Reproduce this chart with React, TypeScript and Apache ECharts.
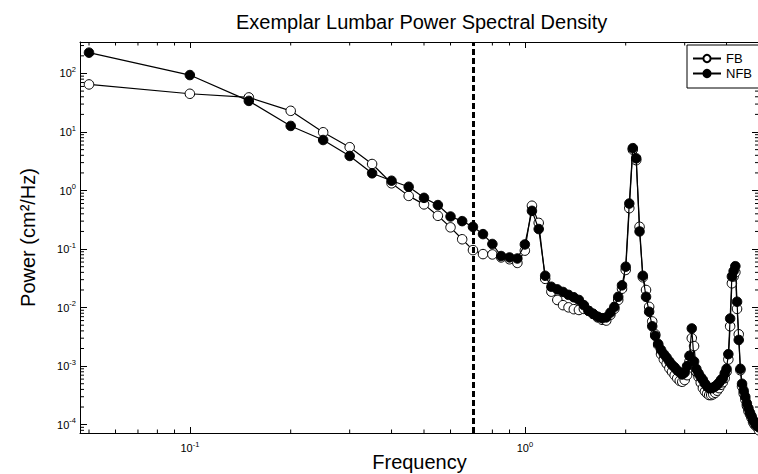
import React, { useEffect, useRef } from 'react';
import * as echarts from 'echarts';

// Frequency bins (Hz)
const freqs = [
  0.05, 0.1, 0.15, 0.2, 0.25, 0.3, 0.35, 0.4, 0.45, 0.5,
  0.55, 0.6, 0.65, 0.7, 0.75, 0.8, 0.85, 0.9, 0.95, 1.0,
  1.05, 1.1, 1.15, 1.2, 1.25, 1.3, 1.35, 1.4, 1.45, 1.5,
  1.55, 1.6, 1.65, 1.7, 1.75, 1.8, 1.85, 1.9, 1.95, 2.0,
  2.05, 2.1, 2.15, 2.2, 2.25, 2.3, 2.35, 2.4, 2.45, 2.5,
  2.55, 2.6, 2.65, 2.7, 2.75, 2.8, 2.85, 2.9, 2.95, 3.0,
  3.05, 3.1, 3.15, 3.2, 3.25, 3.3, 3.35, 3.4, 3.45, 3.5,
  3.55, 3.6, 3.65, 3.7, 3.75, 3.8, 3.85, 3.9, 3.95, 4.0,
  4.05, 4.1, 4.15, 4.2, 4.25, 4.3, 4.35, 4.4, 4.45, 4.5,
  4.55, 4.6, 4.65, 4.7, 4.75, 4.8, 4.85, 4.9, 4.95, 5.0,
];

// FB power (cm^2/Hz)
const fbPower = [
  65, 45, 39, 23, 9.9, 5.5, 2.84, 1.33, 0.81, 0.58,
  0.37, 0.235, 0.147, 0.096, 0.082, 0.081, 0.072, 0.067, 0.058, 0.094,
  0.55, 0.28, 0.031, 0.0187, 0.0135, 0.011, 0.0101, 0.0094, 0.0091, 0.0095,
  0.0088, 0.0078, 0.0068, 0.0062, 0.006, 0.0075, 0.0095, 0.0135, 0.021, 0.044,
  0.5, 5.0, 3.3, 0.24, 0.033, 0.02, 0.0103, 0.0058, 0.0035, 0.0023,
  0.0016, 0.0013, 0.0011, 0.00092, 0.0008, 0.0007, 0.00062, 0.00056, 0.00054, 0.00058,
  0.0007, 0.0012, 0.003, 0.0022, 0.0008, 0.00065, 0.00052, 0.00042, 0.00037, 0.00034,
  0.00032, 0.00032, 0.00033, 0.00035, 0.00038, 0.00042, 0.00048, 0.00053, 0.00062, 0.0008,
  0.0013, 0.0048, 0.026, 0.034, 0.04, 0.0095, 0.0035, 0.00085, 0.00045, 0.00034,
  0.00027, 0.00021, 0.00017, 0.00015, 0.00013, 0.00011, 0.0001, 0.000095, 0.00009, 0.00008,
];

// NFB power (cm^2/Hz)
const nfbPower = [
  227, 94, 34, 12.7, 7.3, 3.9, 1.97, 1.47, 1.16, 0.75,
  0.565, 0.36, 0.3, 0.24, 0.18, 0.122, 0.076, 0.072, 0.069, 0.12,
  0.45, 0.22, 0.035, 0.0227, 0.0205, 0.0185, 0.0165, 0.015, 0.0135, 0.011,
  0.0088, 0.0078, 0.007, 0.0066, 0.0068, 0.0082, 0.0103, 0.0153, 0.024, 0.05,
  0.6, 5.3, 3.55, 0.2, 0.035, 0.0153, 0.0085, 0.0048, 0.0033, 0.0024,
  0.0019, 0.0016, 0.0014, 0.0012, 0.00105, 0.00095, 0.00085, 0.00078, 0.00072, 0.00078,
  0.001, 0.0015, 0.0044, 0.0012, 0.0009, 0.00075, 0.00065, 0.00058, 0.0005, 0.00045,
  0.00042, 0.00042, 0.00043, 0.00045, 0.00048, 0.00052, 0.00058, 0.00062, 0.00075, 0.0009,
  0.0016, 0.0065, 0.034, 0.042, 0.051, 0.0126, 0.0028, 0.0009, 0.0005, 0.00038,
  0.0003, 0.00023, 0.00019, 0.00016, 0.00014, 0.00012, 0.00011, 0.0001, 0.000095, 0.00009,
];

// Minor (log) tick values
const xMinorTicks = [0.05, 0.06, 0.07, 0.08, 0.09, 0.2, 0.3, 0.4, 0.5, 0.6, 0.7, 0.8, 0.9, 2, 3, 4];
const yMinorTicks = [
  8e-5, 9e-5,
  2e-4, 3e-4, 4e-4, 5e-4, 6e-4, 7e-4, 8e-4, 9e-4,
  2e-3, 3e-3, 4e-3, 5e-3, 6e-3, 7e-3, 8e-3, 9e-3,
  0.02, 0.03, 0.04, 0.05, 0.06, 0.07, 0.08, 0.09,
  0.2, 0.3, 0.4, 0.5, 0.6, 0.7, 0.8, 0.9,
  2, 3, 4, 5, 6, 7, 8, 9,
  20, 30, 40, 50, 60, 70, 80, 90,
  200, 300,
];

const xRange = [0.047, 5];
const yRange = [7.2e-5, 345];
const cutoffFreq = [0.7];
const seriesNames = ['FB', 'NFB'];

const FONT = '"Liberation Sans", Arial, Helvetica, sans-serif';

function powLabel(v: number): string {
  const e = Math.log10(v);
  const r = Math.round(e);
  if (Math.abs(e - r) > 1e-6) return '';
  return `{b|10}{s|${r}}`;
}

const labelRich = {
  b: { fontSize: 11, fontFamily: FONT, color: '#000', lineHeight: 14 },
  s: { fontSize: 7.5, fontFamily: FONT, color: '#000', lineHeight: 8, padding: [0, 0, 8, 0] },
};

function renderXMinor(params: any, api: any) {
  const cs = params.coordSys;
  const x = api.coord([api.value(0), 1])[0];
  const yb = cs.y + cs.height;
  const yt = cs.y;
  return {
    type: 'group',
    children: [
      { type: 'line', shape: { x1: x, y1: yb, x2: x, y2: yb - 3.5 }, style: { stroke: '#000', lineWidth: 1 } },
      { type: 'line', shape: { x1: x, y1: yt, x2: x, y2: yt + 3.5 }, style: { stroke: '#000', lineWidth: 1 } },
    ],
  };
}

function renderYMinor(params: any, api: any) {
  const cs = params.coordSys;
  const y = api.coord([1, api.value(1)])[1];
  const xl = cs.x;
  const xr = cs.x + cs.width;
  return {
    type: 'group',
    children: [
      { type: 'line', shape: { x1: xl, y1: y, x2: xl + 4, y2: y }, style: { stroke: '#000', lineWidth: 1 } },
      { type: 'line', shape: { x1: xr, y1: y, x2: xr - 4, y2: y }, style: { stroke: '#000', lineWidth: 1 } },
    ],
  };
}

export default function App() {
  const ref = useRef<HTMLDivElement>(null);

  useEffect(() => {
    if (!ref.current) return;
    const chart = echarts.init(ref.current, null, { renderer: 'svg' });
    const axisLine = { show: true, lineStyle: { color: '#000', width: 1 } };
    const option: any = {
      animation: false,
      backgroundColor: '#fff',
      title: {
        text: 'Exemplar Lumbar Power Spectral Density',
        left: 236,
        top: 12,
        padding: 0,
        textStyle: { fontSize: 20, fontWeight: 'normal', fontFamily: FONT, color: '#000' },
      },
      legend: {
        data: seriesNames,
        orient: 'vertical',
        left: 687,
        top: 45,
        padding: [7, 8, 8, 5],
        itemWidth: 28,
        itemHeight: 9,
        itemGap: 2,
        borderColor: '#000',
        borderWidth: 1,
        borderRadius: 0,
        backgroundColor: '#fff',
        textStyle: { fontSize: 13, lineHeight: 12, fontFamily: FONT, color: '#000' },
        selectedMode: false,
      },
      grid: { left: 80, right: -1, top: 42, bottom: 41, containLabel: false, outerBoundsMode: 'none' },
      xAxis: [
        {
          type: 'log',
          logBase: 10,
          min: xRange[0],
          max: xRange[1],
          position: 'bottom',
          name: 'Frequency',
          nameLocation: 'middle',
          nameGap: 19,
          nameMoveOverlap: false,
          nameTextStyle: { fontSize: 20, fontFamily: FONT, color: '#000' },
          axisLine,
          axisTick: { show: true, inside: true, length: 6, lineStyle: { color: '#000' } },
          axisLabel: { formatter: powLabel, rich: labelRich, margin: 8, color: '#000' },
          splitLine: { show: false },
          minorTick: { show: false },
        },
        {
          type: 'log',
          logBase: 10,
          min: xRange[0],
          max: xRange[1],
          position: 'top',
          axisLine,
          axisTick: { show: true, inside: true, length: 6, lineStyle: { color: '#000' } },
          axisLabel: { show: false },
          splitLine: { show: false },
        },
      ],
      yAxis: [
        {
          type: 'log',
          logBase: 10,
          min: yRange[0],
          max: yRange[1],
          position: 'left',
          name: 'Power (cm²/Hz)',
          nameLocation: 'middle',
          nameGap: 42,
          nameMoveOverlap: false,
          nameTextStyle: { fontSize: 20, fontFamily: FONT, color: '#000' },
          axisLine,
          axisTick: { show: true, inside: true, length: 7, lineStyle: { color: '#000' } },
          axisLabel: { formatter: powLabel, rich: labelRich, margin: 4, color: '#000' },
          splitLine: { show: false },
        },
        {
          type: 'log',
          logBase: 10,
          min: yRange[0],
          max: yRange[1],
          position: 'right',
          axisLine,
          axisTick: { show: true, inside: true, length: 7, lineStyle: { color: '#000' } },
          axisLabel: { show: false },
          splitLine: { show: false },
        },
      ],
      series: [
        {
          type: 'custom',
          silent: true,
          renderItem: renderXMinor,
          data: xMinorTicks.map((v) => [v, 1]),
          z: 1,
        },
        {
          type: 'custom',
          silent: true,
          renderItem: renderYMinor,
          data: yMinorTicks.map((v) => [1, v]),
          z: 1,
        },
        {
          name: seriesNames[0],
          type: 'line',
          data: freqs.map((f, i) => [f, fbPower[i]]),
          symbol: 'circle',
          symbolSize: 9.5,
          showAllSymbol: true,
          lineStyle: { color: '#000', width: 1.2 },
          itemStyle: { color: '#fff', borderColor: '#000', borderWidth: 1 },
          z: 3,
        },
        {
          name: seriesNames[1],
          type: 'line',
          data: freqs.map((f, i) => [f, nfbPower[i]]),
          symbol: 'circle',
          symbolSize: 9.5,
          showAllSymbol: true,
          lineStyle: { color: '#000', width: 1.2 },
          itemStyle: { color: '#000', borderColor: '#000', borderWidth: 1 },
          z: 4,
          markLine: {
            silent: true,
            symbol: 'none',
            label: { show: false },
            lineStyle: { color: '#000', type: [6, 3], width: 3 },
            data: cutoffFreq.map((v) => ({ xAxis: v })),
            z: 10,
          },
        },
      ],
    };
    chart.setOption(option);
    return () => chart.dispose();
  }, []);

  return (
    <div
      ref={ref}
      style={{ position: 'absolute', left: 0, top: 0, width: 758, height: 474, background: '#fff' }}
    />
  );
}
